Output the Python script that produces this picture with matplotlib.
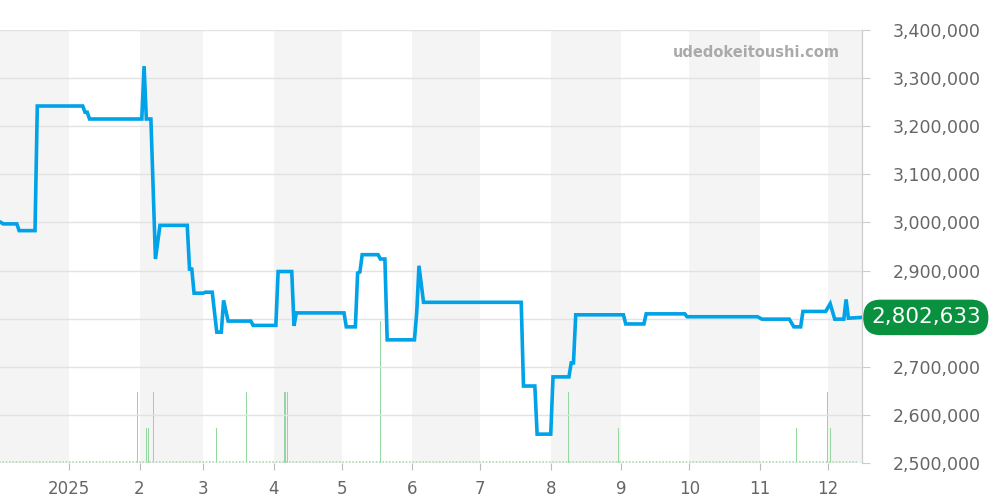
import pandas as pd
import matplotlib
matplotlib.use("Agg")
import matplotlib.pyplot as plt
import matplotlib.transforms as mtransforms

# price history
price_dates = [
    "2024-12-02", "2024-12-03", "2024-12-09", "2024-12-10", "2024-12-17", "2024-12-18",
    "2025-01-07", "2025-01-08", "2025-01-09", "2025-01-10", "2025-02-02", "2025-02-03",
    "2025-02-04", "2025-02-06", "2025-02-08", "2025-02-10", "2025-02-22", "2025-02-23",
    "2025-02-24", "2025-02-25", "2025-03-01", "2025-03-02", "2025-03-05", "2025-03-07",
    "2025-03-09", "2025-03-10", "2025-03-12", "2025-03-22", "2025-03-23", "2025-04-02",
    "2025-04-03", "2025-04-09", "2025-04-10", "2025-04-11", "2025-05-02", "2025-05-03",
    "2025-05-07", "2025-05-08", "2025-05-09", "2025-05-10", "2025-05-17", "2025-05-18",
    "2025-05-20", "2025-05-21", "2025-06-02", "2025-06-03", "2025-06-04", "2025-06-06",
    "2025-07-19", "2025-07-20", "2025-07-25", "2025-07-26", "2025-08-01", "2025-08-02",
    "2025-08-09", "2025-08-10", "2025-08-11", "2025-08-12", "2025-09-02", "2025-09-03",
    "2025-09-11", "2025-09-12", "2025-09-29", "2025-09-30", "2025-10-31", "2025-11-02",
    "2025-11-14", "2025-11-16", "2025-11-19", "2025-11-20", "2025-11-30", "2025-12-02",
    "2025-12-04", "2025-12-08", "2025-12-09", "2025-12-10", "2025-12-16",
]
price_values = [
    3000000, 2997000, 2997000, 2983000, 2983000, 3242000,
    3242000, 3229000, 3229000, 3215000, 3215000, 3325000,
    3215000, 3215000, 2924000, 2994000, 2994000, 2903000,
    2903000, 2853000, 2853000, 2855000, 2855000, 2772000,
    2772000, 2838000, 2795000, 2795000, 2786000, 2786000,
    2898000, 2898000, 2785000, 2812000, 2812000, 2783000,
    2783000, 2895000, 2897000, 2933000, 2933000, 2924000,
    2924000, 2756000, 2756000, 2812000, 2910000, 2834000,
    2834000, 2660000, 2660000, 2560000, 2560000, 2679000,
    2679000, 2708000, 2708000, 2808000, 2808000, 2789000,
    2789000, 2810000, 2810000, 2804000, 2804000, 2799000,
    2799000, 2783000, 2783000, 2815000, 2815000, 2831000,
    2799000, 2799000, 2840000, 2801000, 2802633,
]

# trade volume spikes
volume_dates = [
    "2025-01-31", "2025-02-04", "2025-02-05", "2025-02-07", "2025-03-07", "2025-03-20",
    "2025-04-06", "2025-04-07", "2025-05-18", "2025-08-09", "2025-08-31", "2025-11-17",
    "2025-12-01", "2025-12-02",
]
volume_values = [2, 1, 1, 2, 1, 2, 2, 2, 4, 2, 1, 1, 2, 1]

month_ticks = ["2025-01-01", "2025-02-01", "2025-03-01", "2025-04-01", "2025-05-01",
               "2025-06-01", "2025-07-01", "2025-08-01", "2025-09-01", "2025-10-01",
               "2025-11-01", "2025-12-01"]
month_labels = ["2025", "2", "3", "4", "5", "6", "7", "8", "9", "10", "11", "12"]

price_ticks = [2500000, 2600000, 2700000, 2800000, 2900000, 3000000, 3100000, 3200000, 3300000, 3400000]

last_value = price_values[-1]

px = pd.to_datetime(price_dates)
vx = pd.to_datetime(volume_dates)
xmin = pd.Timestamp("2024-12-01 14:00")
xmax = pd.Timestamp("2025-12-16")

fig = plt.figure(figsize=(10, 5), dpi=100)
axv = fig.add_axes([0.0, 0.074, 0.862, 0.866])
ax = axv.twinx()

# alternating month shading
band_starts = pd.date_range("2024-12-01", "2025-12-01", freq="2MS")
for s in band_starts:
    axv.axvspan(s, s + pd.offsets.MonthBegin(1), color="#f4f4f4", lw=0, zorder=0)

# volume
axv.bar(vx, volume_values, width=0.5, color="#93d69e", zorder=2)
axv.hlines(0.04, pd.Timestamp("2024-12-01"), pd.Timestamp("2025-12-14"),
           colors="#a8dcb0", linestyles=(0, (1, 1)), lw=1.2, zorder=2)
axv.set_ylim(0, 12.2)
axv.set_yticks([])
axv.set_xlim(xmin, xmax)

# price line
ax.set_zorder(axv.get_zorder() + 1)
ax.patch.set_visible(False)
ax.plot(px, price_values, color="#00a2e8", lw=2.6, solid_joinstyle="miter", zorder=5)
ax.set_ylim(2500000, 3400000)
ax.set_xlim(xmin, xmax)
ax.set_yticks(price_ticks)
# the tick label under the last-price badge is hidden
ax.set_yticklabels(["" if abs(v - last_value) < 40000 else f"{v:,}" for v in price_ticks])
ax.yaxis.tick_right()
ax.grid(axis="y", color="#e2e2e2", lw=1)
ax.tick_params(axis="y", colors="#cccccc", labelcolor="#666666", labelsize=12.5,
               length=6, pad=16)

axv.set_xticks(pd.to_datetime(month_ticks))
axv.set_xticklabels(month_labels)
axv.tick_params(axis="x", colors="#bbbbbb", labelcolor="#666666", labelsize=12,
                length=5, pad=7)

for a in (ax, axv):
    for side in ("top", "left", "bottom"):
        a.spines[side].set_visible(False)
    a.spines["right"].set_color("#cccccc")

# last price badge
trans = mtransforms.blended_transform_factory(ax.transAxes, ax.transData)
ax.annotate(f"{last_value:,}", xy=(1.0, last_value), xycoords=trans,
            xytext=(9, 0), textcoords="offset pixels", ha="left", va="center",
            fontsize=15.5, color="white", annotation_clip=False,
            bbox=dict(boxstyle="round,pad=0.36,rounding_size=0.8", fc="#0a9140", ec="none"))

ax.text(0.9745, 0.949, "udedokeitoushi.com", transform=ax.transAxes, ha="right",
        va="center", fontsize=10.5, fontweight="bold", color="#aaaaaa")

fig.savefig("out.png", dpi=100)
